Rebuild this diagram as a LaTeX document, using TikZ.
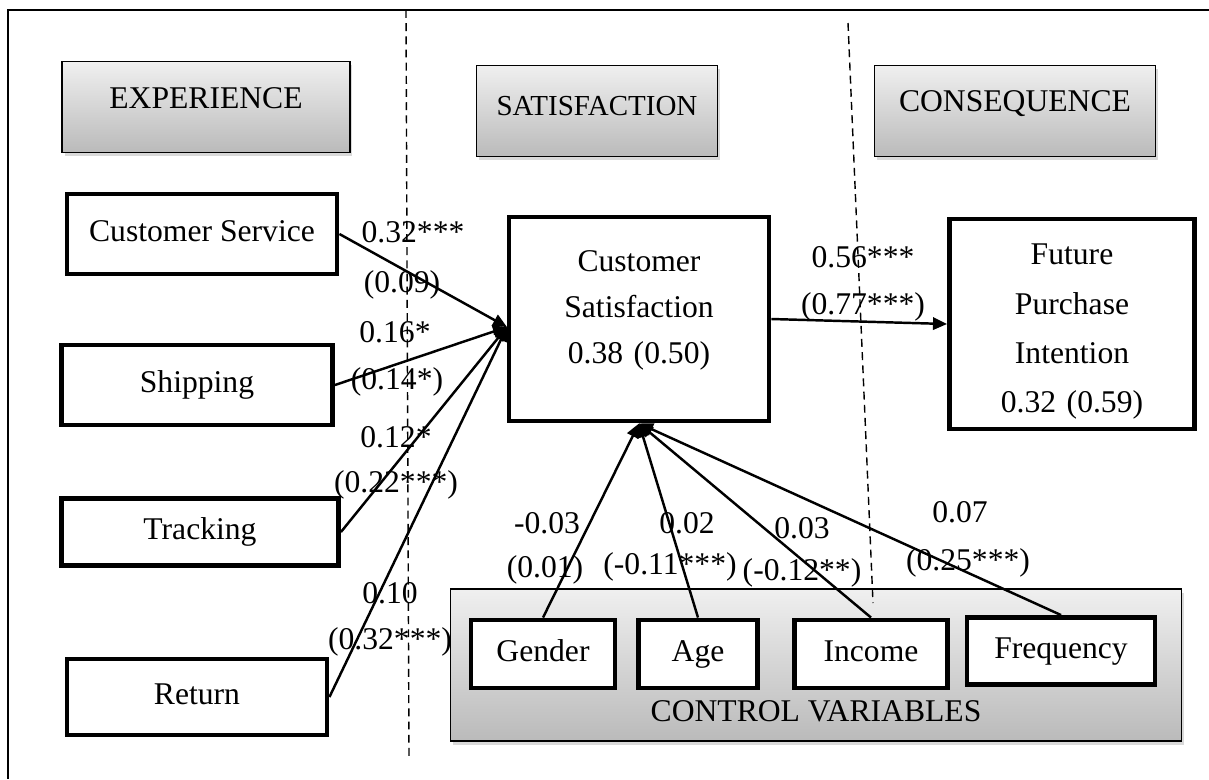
\documentclass[tikz,border=0pt]{standalone}
\usepackage{fontspec}
\setmainfont{Liberation Serif}
\usetikzlibrary{arrows.meta,shadows}
\begin{document}
\begin{tikzpicture}[x=0.02cm,y=-0.02cm,auto,
font=\fontsize{18}{26}\selectfont,
head/.style ={rectangle, draw=black, line width=0.9pt,
  top color=black!6, bottom color=black!27,
  drop shadow={shadow xshift=0.05cm, shadow yshift=-0.07cm, opacity=0.3},
  text centered, minimum height=1.82cm
},
var/.style ={rectangle, draw=black, line width=2.8pt, fill=white,
  text centered, minimum height=1.6cm
},
oneline/.style ={text height=12.5pt, text depth=4.5pt},
lab/.style ={inner sep=0pt},
link/.style ={line width=1.4pt, -{Triangle[length=8pt,width=7pt]}},
divider/.style ={line width=0.8pt, dash pattern=on 4.5pt off 3pt}
]
\useasboundingbox (0,0) rectangle (1209,779);
\draw [line width=0.6pt] (1209,10) -- (8,10) -- (8,779);
% stage headers
\node (hexp) at (206,107) [head, text depth=0.34cm, minimum width=5.76cm] {EXPERIENCE};
\node (hsat) at (597,111) [head, text depth=0.2cm, minimum width=4.82cm,
  font=\fontsize{16.5}{20}\selectfont] {SATISFACTION};
\node (hcon) at (1015,111) [head, text depth=0.4cm, minimum width=5.62cm] {CONSEQUENCE};
% control variables
\node (ctrl) at (816,665) [head, minimum width=14.62cm, minimum height=3.04cm] {};
\node (ctrltxt) at (816,711) {CONTROL VARIABLES};
\node (gen) at (543,654) [var, oneline, minimum width=2.88cm, minimum height=1.36cm] {Gender};
\node (age) at (698,654) [var, oneline, minimum width=2.38cm, minimum height=1.36cm] {Age};
\node (inc) at (871,654) [var, oneline, minimum width=3.06cm, minimum height=1.36cm] {Income};
\node (freq) at (1061,651) [var, oneline, minimum width=3.76cm, minimum height=1.34cm] {Frequency};
% experience
\node (cs) at (202,234) [var, oneline, minimum width=5.4cm] {Customer Service};
\node (ship) at (197,385) [var, oneline, minimum width=5.42cm] {Shipping};
\node (track) at (200,532) [var, oneline, minimum width=5.54cm, minimum height=1.34cm] {Tracking};
\node (ret) at (197,697) [var, oneline, minimum width=5.2cm, minimum height=1.52cm] {Return};
% satisfaction, consequence
\node (csat) at (639,319) [var, text width=4.8cm, minimum width=5.2cm,
  minimum height=4.08cm] {Customer\\Satisfaction\\0.38 (0.50)\rule[-0.48cm]{0pt}{0pt}};
\node (fpi) at (1072,324) [var, text width=4.5cm, minimum width=4.9cm,
  minimum height=4.2cm, font=\fontsize{18}{28}\selectfont]
  {\rule{0pt}{0.72cm}Future\\Purchase\\Intention\\0.32 (0.59)};
% separators
\draw [divider] (406,10) -- (409,760);
\draw [divider] (848,23) -- (873,603);
% paths
\coordinate (cin) at (507,327);
\draw [link] (cs.east) -- (cin);
\draw [link] (ship.east) -- (cin);
\draw [link] (track.east) -- (cin);
\draw [link] (ret.east) -- (cin);
\draw [link] (csat.east) -- (fpi.west);
\draw [link] (gen.north) -- (csat.south);
\draw [link] (age.north) -- (csat.south);
\draw [link] (inc.north) -- (csat.south);
\draw [link] (freq.north) -- (csat.south);
% coefficients
\node (c1a) at (413,232) [lab] {0.32***};
\node (c1b) at (402,285) [lab] {(0.09)};
\node (c2a) at (395,332) [lab] {0.16*};
\node (c2b) at (397,382) [lab] {(0.14*)};
\node (c3a) at (396,437) [lab] {0.12*};
\node (c3b) at (396,485) [lab] {(0.22***)};
\node (c4a) at (390,593) [lab] {0.10};
\node (c4b) at (390,642) [lab] {(0.32***)};
\node (c5a) at (863,257) [lab] {0.56***};
\node (c5b) at (863,307) [lab] {(0.77***)};
\node (c6a) at (547,523) [lab] {-0.03};
\node (c6b) at (545,570) [lab] {(0.01)};
\node (c7a) at (687,523) [lab] {0.02};
\node (c7b) at (670,567) [lab] {(-0.11***)};
\node (c8a) at (802,528) [lab] {0.03};
\node (c8b) at (802,573) [lab] {(-0.12**)};
\node (c9a) at (960,512) [lab] {0.07};
\node (c9b) at (968,563) [lab] {(0.25***)};
\end{tikzpicture}
\end{document}
